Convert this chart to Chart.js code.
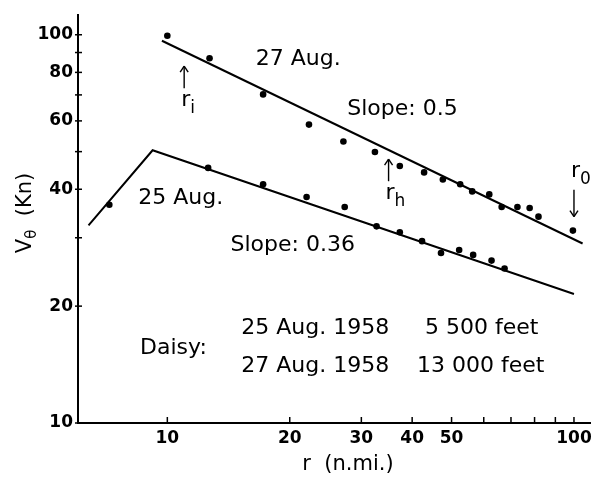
<!DOCTYPE html>
<html>
<head>
<meta charset="utf-8">
<script src="https://cdn.jsdelivr.net/npm/chart.js@4/dist/chart.umd.min.js"></script>
<style>
  html, body { margin: 0; padding: 0; background: #fff; }
  #wrap { width: 597px; height: 482px; position: relative; }
</style>
</head>
<body>
<div id="wrap"><canvas id="daisyChart"></canvas></div>
<script>
// Hurricane Daisy 1958: tangential wind V(theta) against radius, log-log

// 27 Aug., 13 000 ft
const radiusAug27 = [10.0, 12.7, 17.2, 22.3, 27.1, 32.4, 37.3, 42.8, 47.6, 52.5, 56.2, 61.9, 66.4, 72.6, 77.8, 81.8, 99.4];
const windAug27   = [99.4, 87.0, 70.2, 58.7, 53.1, 49.9, 45.9, 44.2, 42.4, 41.2, 39.5, 38.8, 36.0, 36.0, 35.8, 34.0, 31.3];

// 25 Aug., 5 500 ft
const radiusAug25 = [7.2, 12.6, 17.2, 22.0, 27.3, 32.7, 37.3, 42.3, 47.1, 52.2, 56.5, 62.7, 67.5];
const windAug25   = [36.5, 45.4, 41.2, 38.2, 36.0, 32.1, 31.0, 29.4, 27.4, 27.9, 27.1, 26.2, 25.0];

// fitted lines (slope 0.5 and 0.36)
const fitRadiusAug27 = [9.7, 105];
const fitWindAug27   = [96.5, 29.0];
const fitRadiusAug25 = [6.4, 9.2, 100];
const fitWindAug25   = [32.3, 50.4, 21.5];

// axes
const xTicks  = [10, 20, 30, 40, 50, 60, 70, 80, 90, 100];
const xLabels = [10, 20, 30, 40, 50, 100];
const yTicks  = [10, 20, 30, 40, 50, 60, 70, 80, 90, 100];
const yLabels = [10, 20, 40, 60, 80, 100];

// text placed in data space (left edge, vertical middle)
const notes = [
  { text: '27 Aug.',      r: 16.5, v: 86.5 },
  { text: 'Slope: 0.5',   r: 27.7, v: 64.4 },
  { text: '25 Aug.',      r: 8.48, v: 38.0 },
  { text: 'Slope: 0.36',  r: 14.3, v: 28.7 },
  { text: 'Daisy:',       r: 8.57, v: 15.6 },
  { text: '25 Aug. 1958', r: 15.2, v: 17.5 },
  { text: '27 Aug. 1958', r: 15.2, v: 14.0 },
  { text: '5 500 feet',   r: 43.0, v: 17.5 },
  { text: '13 000 feet',  r: 41.1, v: 14.0 }
];

// radius markers: arrow tip position and direction
const markers = [
  { sub: 'i', r: 11.0, v: 83.0, dir: 'up' },
  { sub: 'h', r: 35.0, v: 47.8, dir: 'up' },
  { sub: '0', r: 100,  v: 34.0, dir: 'down' }
];

const toPoints = (xs, ys) => xs.map((x, i) => ({ x: x, y: ys[i] }));

const FONT = '"DejaVu Sans", sans-serif';

function line(ctx, x1, y1, x2, y2) {
  ctx.beginPath();
  ctx.moveTo(x1, y1);
  ctx.lineTo(x2, y2);
  ctx.stroke();
}

const decorations = {
  id: 'decorations',
  afterDraw(chart) {
    const ctx = chart.ctx;
    const x = chart.scales.x;
    const y = chart.scales.y;
    const area = chart.chartArea;
    ctx.save();
    ctx.strokeStyle = '#000';
    ctx.fillStyle = '#000';

    // inward tick marks
    ctx.lineWidth = 1.5;
    xTicks.forEach(v => {
      const px = x.getPixelForValue(v);
      line(ctx, px, area.bottom, px, area.bottom - 6);
    });
    yTicks.forEach(v => {
      const py = y.getPixelForValue(v);
      line(ctx, area.left - 3, py, area.left + 4, py);
    });

    // annotations
    ctx.font = '22px ' + FONT;
    ctx.textAlign = 'left';
    ctx.textBaseline = 'middle';
    notes.forEach(n => {
      ctx.fillText(n.text, x.getPixelForValue(n.r), y.getPixelForValue(n.v));
    });

    // r_i, r_h, r_0 arrows
    ctx.lineWidth = 1.4;
    markers.forEach(m => {
      const px = x.getPixelForValue(m.r);
      const py = y.getPixelForValue(m.v);
      let labelY;
      if (m.dir === 'up') {
        line(ctx, px, py, px, py + 22);
        line(ctx, px - 4, py + 6, px, py);
        line(ctx, px + 4, py + 6, px, py);
        labelY = py + 34;
      } else {
        line(ctx, px, py, px, py - 27);
        line(ctx, px - 4, py - 6, px, py);
        line(ctx, px + 4, py - 6, px, py);
        labelY = py - 45;
      }
      ctx.font = '22px ' + FONT;
      ctx.textAlign = 'left';
      ctx.fillText('r', px - 3, labelY);
      const w = ctx.measureText('r').width;
      ctx.font = '17px ' + FONT;
      ctx.fillText(m.sub, px - 3 + w, labelY + 8);
    });

    // y title: V_theta (Kn), rotated
    ctx.save();
    ctx.translate(26, 213);
    ctx.rotate(-Math.PI / 2);
    ctx.textBaseline = 'middle';
    const parts = [['V', 21, 0], ['\u03b8', 15, 6], ['  (Kn)', 21, 0]];
    let total = 0;
    parts.forEach(p => { ctx.font = p[1] + 'px ' + FONT; total += ctx.measureText(p[0]).width; });
    let cx = -total / 2;
    parts.forEach(p => {
      ctx.font = p[1] + 'px ' + FONT;
      ctx.fillText(p[0], cx, p[2]);
      cx += ctx.measureText(p[0]).width;
    });
    ctx.restore();

    // x title
    ctx.font = '21px ' + FONT;
    ctx.textAlign = 'center';
    ctx.textBaseline = 'middle';
    ctx.fillText('r  (n.mi.)', 348, 465);

    ctx.restore();
  }
};

const ctx = document.getElementById('daisyChart').getContext('2d');
new Chart(ctx, {
  type: 'scatter',
  data: {
    datasets: [
      {
        label: '27 Aug.',
        data: toPoints(radiusAug27, windAug27),
        pointRadius: 3.3,
        pointBackgroundColor: '#000',
        pointBorderWidth: 0,
        showLine: false
      },
      {
        label: '25 Aug.',
        data: toPoints(radiusAug25, windAug25),
        pointRadius: 3.3,
        pointBackgroundColor: '#000',
        pointBorderWidth: 0,
        showLine: false
      },
      {
        label: 'fit 27 Aug.',
        data: toPoints(fitRadiusAug27, fitWindAug27),
        showLine: true,
        pointRadius: 0,
        borderColor: '#000',
        borderWidth: 2
      },
      {
        label: 'fit 25 Aug.',
        data: toPoints(fitRadiusAug25, fitWindAug25),
        showLine: true,
        pointRadius: 0,
        borderColor: '#000',
        borderWidth: 2
      }
    ]
  },
  options: {
    responsive: true,
    maintainAspectRatio: false,
    animation: false,
    layout: { padding: { top: 6, right: 7, left: 0, bottom: 0 } },
    plugins: {
      legend: { display: false },
      tooltip: { enabled: false }
    },
    scales: {
      x: {
        type: 'logarithmic',
        min: 6.03,
        max: 109.5,
        afterFit: scale => { scale.height = 59; },
        afterBuildTicks: scale => { scale.ticks = xTicks.map(v => ({ value: v })); },
        grid: { display: false, drawTicks: false },
        border: { display: true, color: '#000', width: 2 },
        ticks: {
          autoSkip: false,
          maxRotation: 0,
          padding: 5,
          color: '#000',
          font: { family: FONT, size: 17, weight: 'bold' },
          callback: v => xLabels.includes(v) ? String(v) : ''
        }
      },
      y: {
        type: 'logarithmic',
        min: 10,
        max: 112.3,
        afterFit: scale => { scale.width = 78; },
        afterBuildTicks: scale => { scale.ticks = yTicks.map(v => ({ value: v })); },
        grid: { display: false, drawTicks: false },
        border: { display: true, color: '#000', width: 2 },
        ticks: {
          autoSkip: false,
          padding: 5,
          color: '#000',
          font: { family: FONT, size: 17, weight: 'bold' },
          callback: v => yLabels.includes(v) ? String(v) : ''
        }
      }
    }
  },
  plugins: [decorations]
});
</script>
</body>
</html>
